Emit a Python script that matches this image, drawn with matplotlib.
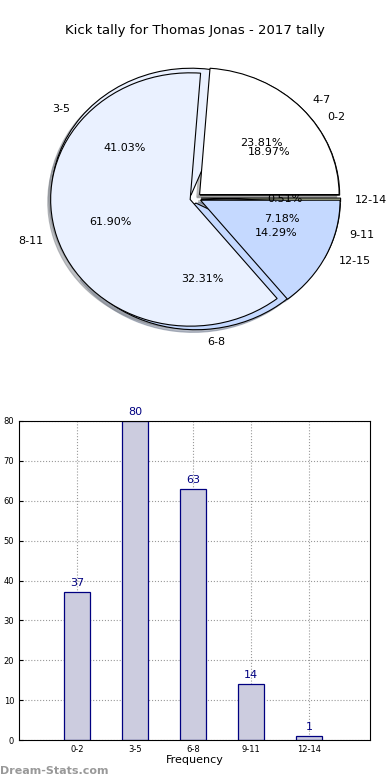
import matplotlib.pyplot as plt

# data
kick_ranges = ["0-2", "3-5", "6-8", "9-11", "12-14"]
kick_counts = [37, 80, 63, 14, 1]

group_ranges = ["4-7", "8-11", "12-15"]
group_counts = [5, 13, 3]

pie_colors = ["white", "#eaf1ff", "#c5d9ff", "#a8c4f0", "#d8e0b8"]

fig = plt.figure(figsize=(3.9, 7.8), dpi=100)
fig.text(0.5, 0.961, "Kick tally for Thomas Jonas - 2017 tally", ha="center", va="center", fontsize=9.5)

# pie chart (two pies drawn on top of each other, elliptical)
ax1 = fig.add_axes([49 / 390, 1 - 331 / 780, 293 / 390, 266 / 780])
wp = dict(edgecolor="black", linewidth=0.8)
shadow = dict(ox=-0.015, oy=-0.015, shade=0.45)
ax1.pie(kick_counts, labels=kick_ranges, colors=pie_colors, autopct="%.2f%%",
        explode=[0.04] * len(kick_counts), shadow=shadow, wedgeprops=wp,
        textprops=dict(fontsize=8), labeldistance=1.1, pctdistance=0.6)
ax1.pie(group_counts, labels=group_ranges, colors=pie_colors[:3], autopct="%.2f%%",
        explode=[0.04] * len(group_counts), shadow=shadow, wedgeprops=wp,
        textprops=dict(fontsize=8), labeldistance=1.1, pctdistance=0.6)
ax1.set_aspect("auto")
ax1.set_xlim(-1.05, 1.05)
ax1.set_ylim(-1.05, 1.05)
ax1.axis("off")

# bar chart
ax2 = fig.add_axes([19 / 390, 40 / 780, 351 / 390, 319 / 780])
xpos = range(len(kick_counts))
ax2.bar(xpos, kick_counts, width=0.45, color="#ccccdf", edgecolor="navy", linewidth=0.9, zorder=2)
for x, v in zip(xpos, kick_counts):
    ax2.text(x, v + 1, str(v), ha="center", va="bottom", color="navy", fontsize=8)
ax2.set_xticks(list(xpos))
ax2.set_xticklabels(kick_ranges, fontsize=6)
ax2.set_yticks(range(0, 81, 10))
ax2.tick_params(axis="y", labelsize=6)
ax2.tick_params(axis="both", length=3, direction="in")
ax2.set_xlim(-1.0, 5.05)
ax2.set_ylim(0, 80)
ax2.grid(True, linestyle=":", color="#999999", linewidth=0.8, zorder=0)
ax2.set_axisbelow(True)
ax2.set_xlabel("Frequency", fontsize=8, labelpad=1)

fig.text(0.0, 0.012, "Dream-Stats.com", color="#999999", fontsize=8, fontweight="bold", ha="left", va="center")

fig.savefig("out.png", dpi=100)
